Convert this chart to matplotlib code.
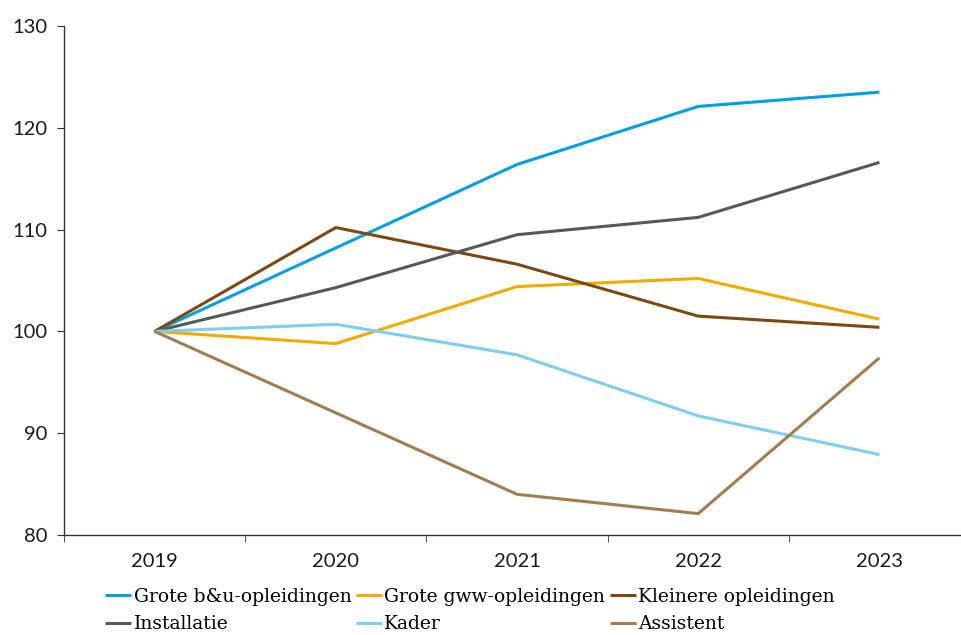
import numpy as np
import matplotlib.pyplot as plt

years = ['2019', '2020', '2021', '2022', '2023']
bu = [100, 108.2, 116.4, 122.1, 123.5]
gww = [100, 98.8, 104.4, 105.2, 101.2]
kleinere = [100, 110.2, 106.6, 101.5, 100.4]
installatie = [100, 104.3, 109.5, 111.2, 116.6]
kader = [100, 100.7, 97.7, 91.7, 87.9]
assistent = [100, 92.0, 84.0, 82.1, 97.4]

series = [
    ('Grote b&u-opleidingen', bu, '#009FE3'),
    ('Grote gww-opleidingen', gww, '#F0AB00'),
    ('Kleinere opleidingen', kleinere, '#7A4A12'),
    ('Installatie', installatie, '#58585A'),
    ('Kader', kader, '#7DCFF0'),
    ('Assistent', assistent, '#A27D52'),
]

fig = plt.figure(figsize=(9.62, 6.35), dpi=100)
ax = fig.add_axes([64 / 962, 1 - 535 / 635, 906 / 962, 509 / 635])

x = np.arange(len(years))
lines = []
for name, vals, col in series:
    ln, = ax.plot(x, vals, color=col, lw=2.2, label=name, solid_capstyle='butt')
    lines.append(ln)

ax.set_xlim(-0.5, len(years) - 0.5)
ax.set_ylim(80, 130)
ax.set_yticks(np.arange(80, 131, 10))
ax.set_xticks(x)
ax.set_xticklabels(years)
ax.set_xticks(np.arange(-0.5, len(years), 1), minor=True)
ax.tick_params(axis='x', which='major', length=0, pad=13)
ax.tick_params(axis='x', which='minor', length=5, direction='out', color='#333333')
ax.tick_params(axis='y', length=5, direction='out', color='#333333', pad=7)
for lab in ax.get_xticklabels() + ax.get_yticklabels():
    lab.set_fontfamily('Lato')
    lab.set_fontsize(14.5)
    lab.set_color('#1a1a1a')

for s in ['top', 'right']:
    ax.spines[s].set_visible(False)
for s in ['left', 'bottom']:
    ax.spines[s].set_color('#333333')
    ax.spines[s].set_linewidth(1)

# legend is filled row by row in the reference
order = [0, 3, 1, 4, 2, 5]
fig.legend([lines[i] for i in order], [series[i][0] for i in order],
           loc='upper left', bbox_to_anchor=(90 / 962, 1 - 573 / 635), ncol=3,
           frameon=False, handlelength=1.4, handletextpad=0.12, columnspacing=0.25,
           labelspacing=0.5, borderpad=0.3,
           prop={'family': 'DejaVu Serif', 'size': 13.5})

fig.savefig('out.png', dpi=100)
